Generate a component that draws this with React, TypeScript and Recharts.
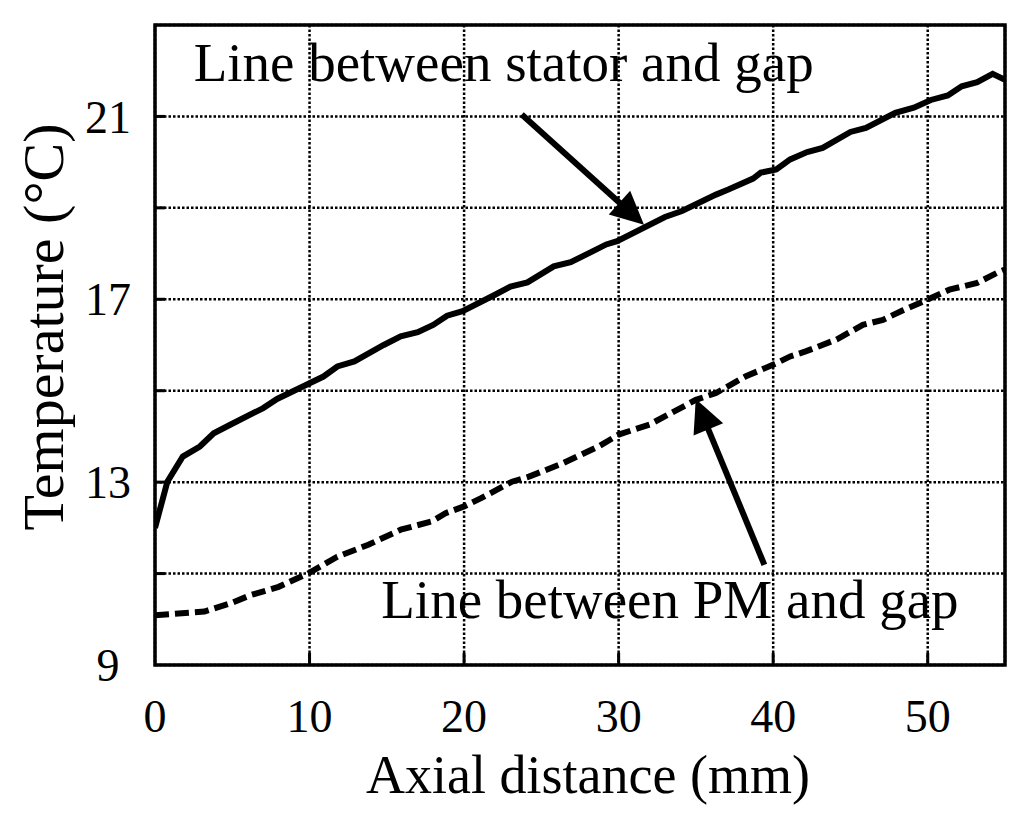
import {
  LineChart,
  Line,
  XAxis,
  YAxis,
  CartesianGrid,
  ReferenceArea,
  ReferenceLine,
  ReferenceDot,
  Label,
} from 'recharts';

const FONT = '"Liberation Serif", "Times New Roman", serif';

// line between stator and gap (solid)
const statorX = [
  0, 0.8, 1.8, 2.9, 3.8, 4.9, 7.0, 7.9, 9.8, 10.9, 11.8, 12.9, 14.8, 15.9, 17.0, 18.0, 18.9, 19.9,
  22.0, 23.0, 24.1, 25.8, 26.9, 29.2, 29.9, 33.0, 34.1, 36.3, 37.1, 38.7, 39.2, 40.2, 41.1, 42.2,
  43.2, 45.0, 46.0, 47.9, 49.1, 50.2, 51.3, 52.2, 53.2, 54.2, 55.0,
];
const statorTemp = [
  12.0, 13.01, 13.56, 13.78, 14.07, 14.26, 14.62, 14.82, 15.13, 15.31, 15.53, 15.64, 16.0, 16.19,
  16.28, 16.44, 16.64, 16.74, 17.1, 17.28, 17.37, 17.72, 17.81, 18.2, 18.27, 18.8, 18.93, 19.29,
  19.4, 19.64, 19.77, 19.84, 20.06, 20.22, 20.31, 20.66, 20.75, 21.08, 21.19, 21.36, 21.46, 21.66,
  21.75, 21.93, 21.8,
];

// line between PM and gap (dashed)
const pmX = [
  0, 3.2, 4.9, 6.2, 8.0, 9.9, 11.8, 13.8, 15.9, 17.9, 18.8, 20.0, 21.1, 23.1, 24.2, 26.3, 28.7,
  30.0, 32.0, 35.0, 36.3, 38.2, 40.2, 41.1, 42.1, 44.1, 45.8, 47.1, 48.4, 50.1, 51.4, 53.2, 54.5,
  55.0,
];
const pmTemp = [
  10.09, 10.17, 10.35, 10.53, 10.71, 11.0, 11.37, 11.63, 11.96, 12.14, 12.32, 12.47, 12.65, 13.01,
  13.12, 13.4, 13.78, 14.04, 14.26, 14.8, 14.95, 15.31, 15.6, 15.75, 15.86, 16.12, 16.44, 16.55,
  16.76, 17.01, 17.21, 17.36, 17.58, 17.65,
];

const xTicks = [0, 10, 20, 30, 40, 50];
const yTicks = [9, 11, 13, 15, 17, 19, 21, 23];
const yLabelled = [9, 13, 17, 21];

const statorData = statorX.map((x, i) => ({ x, temp: statorTemp[i] }));
const pmData = pmX.map((x, i) => ({ x, temp: pmTemp[i] }));

const LeftTick = ({ x, y, payload }: any) => (
  <g>
    {payload.value > 9 && payload.value < 23 && (
      <line x1={x} x2={x + 10} y1={y} y2={y} stroke="#000" strokeWidth={3} />
    )}
    {yLabelled.includes(payload.value) && (
      <text x={x - 47} y={y} dy="0.35em" textAnchor="middle" fontSize={46} fontFamily={FONT} fill="#000">
        {payload.value}
      </text>
    )}
  </g>
);

const RightTick = ({ x, y, payload }: any) =>
  payload.value > 9 && payload.value < 23 ? (
    <line x1={x} x2={x - 10} y1={y} y2={y} stroke="#000" strokeWidth={3} />
  ) : (
    <g />
  );

const BottomTick = ({ x, y, payload }: any) => (
  <g>
    {payload.value > 0 && <line x1={x} x2={x} y1={y} y2={y - 12} stroke="#000" strokeWidth={3} />}
    <text x={x} y={y + 67} textAnchor="middle" fontSize={46} fontFamily={FONT} fill="#000">
      {payload.value}
    </text>
  </g>
);

const Arrow = ({ x1, y1, x2, y2 }: any) => {
  const dx = x2 - x1;
  const dy = y2 - y1;
  const len = Math.hypot(dx, dy);
  const ux = dx / len;
  const uy = dy / len;
  const head = 33;
  const half = 16;
  const bx = x2 - ux * head;
  const by = y2 - uy * head;
  const pts = `${x2},${y2} ${bx - uy * half},${by + ux * half} ${bx + uy * half},${by - ux * half}`;
  return (
    <g>
      <line x1={x1} y1={y1} x2={bx + ux * 2} y2={by + uy * 2} stroke="#000" strokeWidth={6} />
      <polygon points={pts} fill="#000" />
    </g>
  );
};

const note = (text: string) => (p: any) => (
  <text x={p.cx} y={p.cy} fontSize={55} fontFamily={FONT} fill="#000">
    {text}
  </text>
);

export default function App() {
  return (
    <div style={{ position: 'absolute', left: 0, top: 0, background: '#fff' }}>
      <LineChart width={1024} height={817} margin={{ top: 25, right: 19, bottom: 72, left: 55 }}>
        <CartesianGrid stroke="#000" strokeWidth={2.5} strokeDasharray="2.5 2" />
        <XAxis
          dataKey="x"
          type="number"
          domain={[0, 55]}
          ticks={xTicks}
          allowDataOverflow
          height={80}
          axisLine={false}
          tickLine={false}
          tickSize={0}
          tickMargin={0}
          tick={<BottomTick />}
        >
          <Label
            content={({ viewBox }: any) => (
              <text
                x={viewBox.x + viewBox.width / 2 + 8}
                y={viewBox.y + 128}
                textAnchor="middle"
                fontSize={54}
                fontFamily={FONT}
                fill="#000"
              >
                Axial distance (mm)
              </text>
            )}
          />
        </XAxis>
        <YAxis
          type="number"
          domain={[9, 23]}
          ticks={yTicks}
          allowDataOverflow
          width={100}
          axisLine={false}
          tickLine={false}
          tickSize={0}
          tickMargin={0}
          tick={<LeftTick />}
        >
          <Label
            content={({ viewBox }: any) => {
              const cx = viewBox.x + 8;
              const cy = 327;
              return (
                <text
                  x={cx}
                  y={cy}
                  transform={`rotate(-90, ${cx}, ${cy})`}
                  textAnchor="middle"
                  fontSize={58}
                  fontFamily={FONT}
                  fill="#000"
                >
                  Temperature (°C)
                </text>
              );
            }}
          />
        </YAxis>
        <YAxis
          yAxisId="r"
          orientation="right"
          type="number"
          domain={[9, 23]}
          ticks={yTicks}
          width={0}
          axisLine={false}
          tickLine={false}
          tickSize={0}
          tickMargin={0}
          tick={<RightTick />}
        />
        <ReferenceArea x1={0} x2={55} y1={9} y2={23} fill="none" stroke="#000" strokeWidth={3.5} />
        <Line
          data={statorData}
          dataKey="temp"
          type="linear"
          stroke="#000"
          strokeWidth={6}
          dot={false}
          isAnimationActive={false}
        />
        <Line
          data={pmData}
          dataKey="temp"
          type="linear"
          stroke="#000"
          strokeWidth={6}
          strokeDasharray="14 6"
          dot={false}
          isAnimationActive={false}
        />
        <ReferenceLine
          segment={[{ x: 23.73, y: 21.04 }, { x: 31.64, y: 18.63 }]}
          ifOverflow="visible"
          shape={<Arrow />}
        />
        <ReferenceLine
          segment={[{ x: 39.43, y: 11.19 }, { x: 34.99, y: 14.82 }]}
          ifOverflow="visible"
          shape={<Arrow />}
        />
        <ReferenceDot x={2.5} y={21.77} r={0} ifOverflow="visible" shape={note('Line between stator and gap')} />
        <ReferenceDot x={14.64} y={10.03} r={0} ifOverflow="visible" shape={note('Line between PM and gap')} />
      </LineChart>
    </div>
  );
}
